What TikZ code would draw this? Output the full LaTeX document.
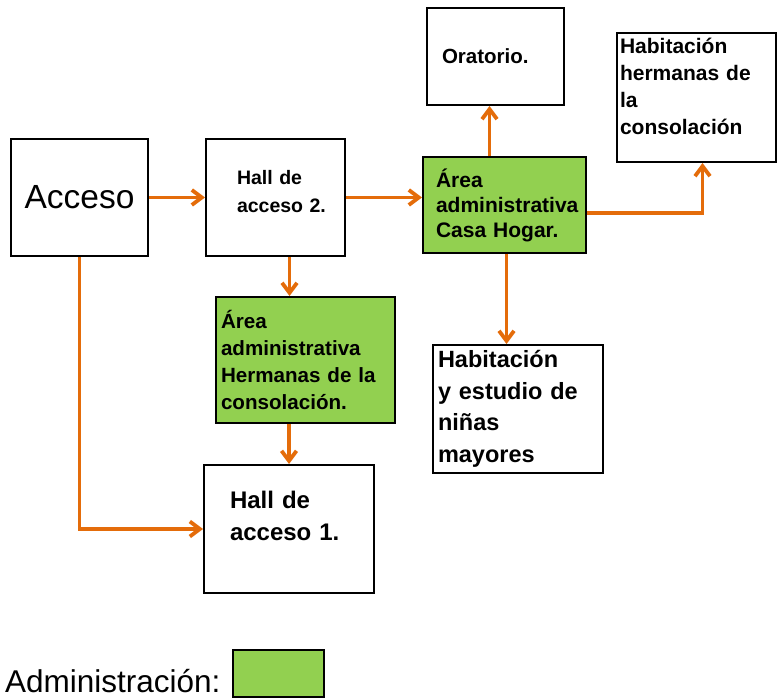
\documentclass[tikz,border=0pt]{standalone}
\usepackage{fontspec}
\setmainfont{Liberation Sans}
\usetikzlibrary{arrows.meta}
\definecolor{naranja}{RGB}{228,108,10}
\definecolor{verde}{RGB}{146,208,80}
\hyphenpenalty=10000

\begin{document}
\begin{tikzpicture}[x=1pt, y=-1pt,
whitebox/.style={rectangle, draw=black, line width=2pt, fill=white, inner sep=0pt, align=left},
greenbox/.style={whitebox, fill=verde},
flow/.style={draw=naranja, line width=3.8pt, -{Straight Barb[length=10pt,width=15pt]}},
]
\useasboundingbox (0,0) rectangle (777,700);

% Entrance and halls
\node[whitebox, align=center, minimum width=137pt, minimum height=117pt, font=\fontsize{33.5}{38}\selectfont] (acceso) at (79.5,197.5) {Acceso};
\node[whitebox, text width=77pt, minimum width=139pt, minimum height=117pt, font=\bfseries\fontsize{19.5}{28}\selectfont] (hall2) at (275.5,197.5) {Hall de\\acceso~2.\rule[-13pt]{0pt}{13pt}};
\node[whitebox, text width=118pt, minimum width=170pt, minimum height=128pt, font=\bfseries\fontsize{24}{32}\selectfont] (hall1) at (289,529) {Hall de\\acceso~1.\rule[-27pt]{0pt}{27pt}};

% Administration areas
\node[greenbox, text width=137pt, minimum width=163pt, minimum height=96pt, font=\bfseries\fontsize{21}{25}\selectfont] (casahogar) at (504.5,205) {Área\\administrativa\\Casa Hogar.};
\node[greenbox, text width=169pt, minimum width=179pt, minimum height=126pt, font=\bfseries\fontsize{20.6}{27}\selectfont] (areahermanas) at (305.5,360) {Área\\administrativa\\Hermanas de la\\consolación.};

% Rooms
\node[whitebox, text width=107pt, minimum width=137pt, minimum height=97pt, font=\bfseries\fontsize{20.5}{25}\selectfont] (oratorio) at (495.5,56.5) {Oratorio.};
\node[whitebox, text width=153pt, minimum width=159pt, minimum height=129pt, font=\bfseries\fontsize{21}{27}\selectfont] (habhermanas) at (696.5,97.5) {Habitación\\hermanas de\\la\\consolación\rule[-23pt]{0pt}{23pt}};
\node[whitebox, text width=160pt, minimum width=170pt, minimum height=128pt, font=\bfseries\fontsize{23.5}{31.5}\selectfont] (habninas) at (518,409) {Habitación\\y estudio de\\niñas\\mayores};

% Legend
\node[anchor=base west, inner sep=0pt, font=\fontsize{31.5}{36}\selectfont] (admin) at (5,692.5) {Administración:};
\node[greenbox, minimum width=91pt, minimum height=47pt] (leyenda) at (278.5,673.5) {};

% Connections
\draw[flow] (acceso) -- (hall2);
\draw[flow] (hall2) -- (hall2 -| casahogar.west);
\draw[flow] ([xshift=-6pt]oratorio.south |- casahogar.north) -- ([xshift=-6pt]oratorio.south);
\draw[flow] ([yshift=-8pt]casahogar.east) -| ([xshift=6pt]habhermanas.south);
\draw[flow] ([xshift=2pt]casahogar.south) -- ([xshift=2pt]casahogar.south |- habninas.north);
\draw[flow] ([xshift=14pt]hall2.south) -- ([xshift=14pt]hall2.south |- areahermanas.north);
\draw[flow] (hall1.north |- areahermanas.south) -- (hall1.north);
\draw[flow] (acceso.south) |- (hall1.west);
\end{tikzpicture}
\end{document}
